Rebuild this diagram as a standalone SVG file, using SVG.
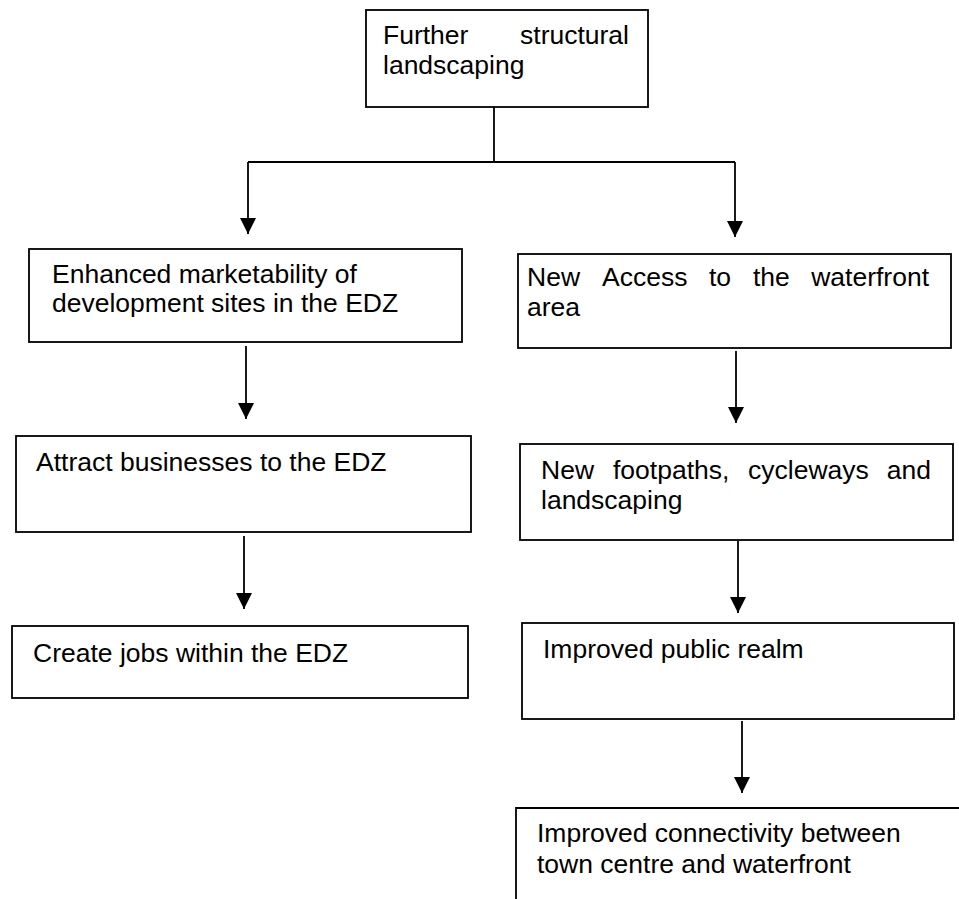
<svg xmlns="http://www.w3.org/2000/svg" width="959" height="899" viewBox="0 0 959 899">
<defs>
<marker id="ah" viewBox="0 0 16 16" refX="16" refY="8" markerWidth="16" markerHeight="16" markerUnits="userSpaceOnUse" orient="auto">
<path d="M0,0 L16,8 L0,16 z" fill="#000"/>
</marker>
<style>
.box{fill:#fff;stroke:#000;stroke-width:1.8}
.t{font-family:"Liberation Sans",Arial,sans-serif;font-size:26.5px;fill:#000}
.c{fill:none;stroke:#000;stroke-width:1.8}
.a{marker-end:url(#ah)}
</style>
</defs>
<rect width="959" height="899" fill="#fff"/>
<g id="connectors">
<path class="c" d="M494,107 V162 M248,162 H735"/>
<path class="c a" d="M248,162 V234"/>
<path class="c a" d="M735,162 V237"/>
<path class="c a" d="M246,346 V419"/>
<path class="c a" d="M244,536 V609"/>
<path class="c a" d="M736,351 V423"/>
<path class="c a" d="M738,541 V613"/>
<path class="c a" d="M742,721 V793"/>
</g>
<g id="n_top">
<rect class="box" x="366" y="10" width="282" height="97"/>
<text class="t" x="383" y="44">Further</text>
<text class="t" x="629" y="44" text-anchor="end">structural</text>
<text class="t" x="383" y="74">landscaping</text>
</g>
<g id="n_enhanced">
<rect class="box" x="29" y="249" width="433" height="93"/>
<text class="t" x="52" y="283">Enhanced marketability of</text>
<text class="t" x="52" y="312">development sites in the EDZ</text>
</g>
<g id="n_access">
<rect class="box" x="518" y="254" width="433" height="94"/>
<text class="t" x="527" y="286">New</text>
<text class="t" x="602" y="286">Access</text>
<text class="t" x="709" y="286">to</text>
<text class="t" x="753" y="286">the</text>
<text class="t" x="929" y="286" text-anchor="end">waterfront</text>
<text class="t" x="527" y="316">area</text>
</g>
<g id="n_attract">
<rect class="box" x="16" y="436" width="455" height="96"/>
<text class="t" x="36" y="471">Attract businesses to the EDZ</text>
</g>
<g id="n_footpaths">
<rect class="box" x="520" y="444" width="433" height="96"/>
<text class="t" x="541" y="479">New</text>
<text class="t" x="613" y="479">footpaths,</text>
<text class="t" x="748" y="479">cycleways</text>
<text class="t" x="931" y="479" text-anchor="end">and</text>
<text class="t" x="541" y="509">landscaping</text>
</g>
<g id="n_jobs">
<rect class="box" x="12" y="626" width="456" height="72"/>
<text class="t" x="33" y="662">Create jobs within the EDZ</text>
</g>
<g id="n_realm">
<rect class="box" x="522" y="623" width="432" height="96"/>
<text class="t" x="543" y="658">Improved public realm</text>
</g>
<g id="n_connectivity">
<path class="c" d="M516,899 V808 H959"/>
<text class="t" x="537" y="842">Improved connectivity between</text>
<text class="t" x="537" y="873">town centre and waterfront</text>
</g>
</svg>
